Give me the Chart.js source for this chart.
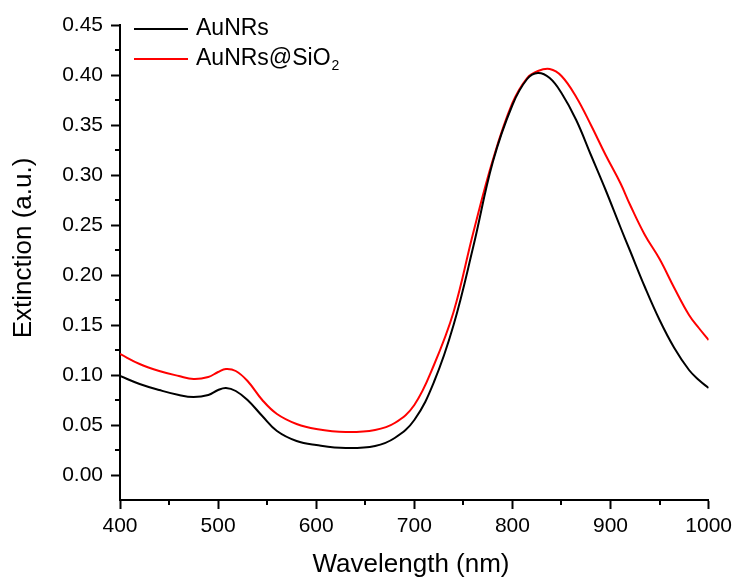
<!DOCTYPE html>
<html>
<head>
<meta charset="utf-8">
<title>Extinction spectra</title>
<script src="https://cdn.jsdelivr.net/npm/chart.js@4/dist/chart.umd.min.js"></script>
<style>
  html, body { margin: 0; padding: 0; background: #fff; }
  #wrap { width: 737px; height: 579px; }
</style>
</head>
<body>
<div id="wrap"><canvas id="chart" width="737" height="579"></canvas></div>
<script>
// Wavelength grid (nm) shared by both spectra
const WAVELENGTHS = [400, 420, 440, 460, 475, 490, 500, 508, 518, 530, 545, 560, 580, 600, 630, 660, 680,
  700, 720, 740, 760, 780, 800, 815, 826, 838, 850, 865, 880, 895, 910, 920, 935, 950, 965, 980, 990, 1000];

// Extinction of bare gold nanorods
const AUNRS = [0.099, 0.091, 0.085, 0.080, 0.078, 0.080, 0.085, 0.087, 0.084, 0.075, 0.059, 0.044, 0.034, 0.030, 0.027, 0.029, 0.037,
  0.055, 0.093, 0.150, 0.228, 0.313, 0.370, 0.396, 0.402, 0.397, 0.382, 0.355, 0.320, 0.285, 0.248, 0.224, 0.188, 0.155, 0.127, 0.105, 0.095, 0.087];

// Extinction of silica-coated gold nanorods
const AUNRS_SIO2 = [0.121, 0.111, 0.104, 0.099, 0.096, 0.098, 0.103, 0.106, 0.104, 0.094, 0.075, 0.061, 0.051, 0.046, 0.043, 0.045, 0.052,
  0.070, 0.110, 0.163, 0.242, 0.315, 0.372, 0.397, 0.404, 0.406, 0.399, 0.378, 0.350, 0.320, 0.292, 0.270, 0.240, 0.216, 0.187, 0.160, 0.147, 0.135];

const SERIES_LABELS = ['AuNRs', 'AuNRs@SiO\u2082'];
const SERIES_COLORS = ['#000000', '#ff0000'];

// Axis ticks
const X_TICKS = [400, 500, 600, 700, 800, 900, 1000];
const Y_TICKS = [0.00, 0.05, 0.10, 0.15, 0.20, 0.25, 0.30, 0.35, 0.40, 0.45];
const X_TITLE = 'Wavelength (nm)';
const Y_TITLE = 'Extinction (a.u.)';

const FONT = '"Liberation Sans", Arial, Helvetica, sans-serif';

const toPoints = (xs, ys) => xs.map((x, i) => ({ x: x, y: ys[i] }));

// Midpoints between major ticks, drawn as short minor ticks
const midpoints = (arr) => {
  const out = [];
  for (let i = 0; i < arr.length - 1; i++) out.push((arr[i] + arr[i + 1]) / 2);
  return out;
};

// Draw text where unicode subscript digits are rendered smaller and lowered
function drawRichText(ctx, text, x, y, size) {
  const subs = '\u2080\u2081\u2082\u2083\u2084\u2085\u2086\u2087\u2088\u2089';
  let cx = x;
  let run = '';
  const flush = () => {
    if (!run) return;
    ctx.font = size + 'px ' + FONT;
    ctx.fillText(run, cx, y);
    cx += ctx.measureText(run).width;
    run = '';
  };
  for (const ch of text) {
    const k = subs.indexOf(ch);
    if (k >= 0) {
      flush();
      const s = Math.round(size * 0.63);
      ctx.font = s + 'px ' + FONT;
      ctx.fillText(String(k), cx + 1, y + size * 0.3);
      cx += ctx.measureText(String(k)).width + 1;
    } else {
      run += ch;
    }
  }
  flush();
}

const decorations = {
  id: 'decorations',
  afterDraw(chart) {
    const ctx = chart.ctx;
    const xs = chart.scales.x;
    const ys = chart.scales.y;
    const area = chart.chartArea;
    ctx.save();

    // minor ticks
    ctx.strokeStyle = '#000';
    ctx.lineWidth = 2;
    ctx.beginPath();
    midpoints(X_TICKS).forEach(v => {
      const px = Math.round(xs.getPixelForValue(v));
      ctx.moveTo(px, area.bottom);
      ctx.lineTo(px, area.bottom + 5);
    });
    midpoints(Y_TICKS).forEach(v => {
      const py = Math.round(ys.getPixelForValue(v));
      ctx.moveTo(area.left - 5, py);
      ctx.lineTo(area.left, py);
    });
    ctx.stroke();

    // axis titles
    ctx.fillStyle = '#000';
    ctx.font = '26px ' + FONT;
    ctx.textAlign = 'center';
    ctx.textBaseline = 'middle';
    ctx.fillText(X_TITLE, 411, 565);
    ctx.save();
    ctx.translate(24, 248);
    ctx.rotate(-Math.PI / 2);
    ctx.fillText(Y_TITLE, 0, 0);
    ctx.restore();

    // legend
    ctx.textAlign = 'left';
    ctx.textBaseline = 'middle';
    chart.data.datasets.forEach((ds, i) => {
      const y = 29 + i * 30;
      ctx.strokeStyle = ds.borderColor;
      ctx.lineWidth = 2;
      ctx.beginPath();
      ctx.moveTo(134, y);
      ctx.lineTo(188, y);
      ctx.stroke();
      ctx.fillStyle = '#000';
      drawRichText(ctx, ds.label, 196, y, 23);
    });
    ctx.restore();
  }
};

new Chart(document.getElementById('chart'), {
  type: 'line',
  data: {
    datasets: [
      {
        label: SERIES_LABELS[0],
        data: toPoints(WAVELENGTHS, AUNRS),
        borderColor: SERIES_COLORS[0],
        borderWidth: 2,
        pointRadius: 0,
        fill: false,
        tension: 0.4
      },
      {
        label: SERIES_LABELS[1],
        data: toPoints(WAVELENGTHS, AUNRS_SIO2),
        borderColor: SERIES_COLORS[1],
        borderWidth: 2,
        pointRadius: 0,
        fill: false,
        tension: 0.4
      }
    ]
  },
  options: {
    responsive: false,
    animation: false,
    devicePixelRatio: 1,
    layout: { padding: { left: 0, right: 26, top: 25, bottom: 0 } },
    plugins: {
      legend: { display: false },
      tooltip: { enabled: false }
    },
    scales: {
      x: {
        type: 'linear',
        min: 400,
        max: 1000,
        afterFit: s => { s.height = 79; },
        afterBuildTicks: s => { s.ticks = X_TICKS.map(v => ({ value: v })); },
        border: { display: true, color: '#000', width: 2 },
        grid: { drawOnChartArea: false, drawTicks: true, tickLength: 9, tickWidth: 2, tickColor: '#000' },
        ticks: {
          color: '#000',
          padding: 5,
          maxRotation: 0,
          font: { family: FONT, size: 21 },
          callback: v => String(v)
        }
      },
      y: {
        type: 'linear',
        min: -0.025,
        max: 0.45,
        afterFit: s => { s.width = 120; },
        afterBuildTicks: s => { s.ticks = Y_TICKS.map(v => ({ value: v })); },
        border: { display: true, color: '#000', width: 2 },
        grid: { drawOnChartArea: false, drawTicks: true, tickLength: 9, tickWidth: 2, tickColor: '#000' },
        ticks: {
          color: '#000',
          padding: 8,
          font: { family: FONT, size: 21 },
          callback: v => Number(v).toFixed(2)
        }
      }
    }
  },
  plugins: [decorations]
});
</script>
</body>
</html>
